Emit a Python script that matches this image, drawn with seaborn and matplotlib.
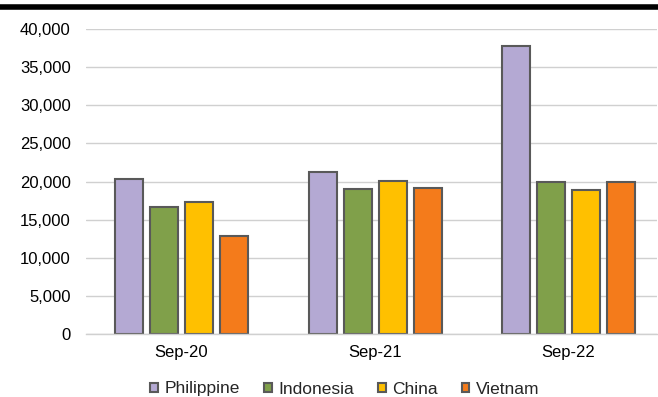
import pandas as pd
import numpy as np
import matplotlib
matplotlib.use("Agg")
import matplotlib.pyplot as plt
import seaborn as sns

# values
periods = ["Sep-20", "Sep-21", "Sep-22"]
countries = ["Philippine", "Indonesia", "China", "Vietnam"]
philippine = [20300, 21300, 37800]
indonesia = [16600, 19000, 20000]
china = [17300, 20100, 18900]
vietnam = [12800, 19200, 20000]
colors = ["#B4A9D3", "#80A04A", "#FFC000", "#F47B1B"]

# long format for seaborn
rows = []
for country, vals in zip(countries, [philippine, indonesia, china, vietnam]):
    for p, v in zip(periods, vals):
        rows.append({"period": p, "country": country, "value": v})
df = pd.DataFrame(rows)

sns.set_style("white")
plt.rcParams["font.family"] = ["Liberation Sans", "DejaVu Sans"]

fig = plt.figure(figsize=(6.58, 3.97), dpi=100)
ax = fig.add_axes([86 / 658, 63 / 397, 571 / 658, 305 / 397])

sns.barplot(data=df, x="period", y="value", hue="country", order=periods,
            hue_order=countries, palette=colors, width=0.723, gap=0.2,
            edgecolor="#595959", linewidth=1.5, saturation=1, ax=ax)

ax.set_ylim(0, 40000)
ax.set_xlim(-0.494, 2.457)
ax.set_yticks(np.arange(0, 40001, 5000))
ax.yaxis.set_major_formatter(matplotlib.ticker.FuncFormatter(lambda v, p: f"{int(v):,}"))
ax.yaxis.grid(True, color="#D0D0D0", linewidth=1)
ax.set_axisbelow(True)
for s in ["top", "right", "left"]:
    ax.spines[s].set_visible(False)
ax.spines["bottom"].set_color("#D0D0D0")
ax.spines["bottom"].set_linewidth(1)
ax.tick_params(axis="both", length=0, labelsize=12, colors="black")
ax.tick_params(axis="x", pad=8)
ax.tick_params(axis="y", pad=11)
ax.set_xlabel("")
ax.set_ylabel("")

ax.legend_.remove()
handles, labels = ax.get_legend_handles_labels()
fig.legend(handles[:4], labels[:4], loc="center", bbox_to_anchor=(345 / 658, 1 - 389 / 397),
           ncol=4, frameon=False, fontsize=12.5, handlelength=0.45, handleheight=0.45,
           handletextpad=0.4, columnspacing=1.35, borderpad=0)

# thick black rule at the top
fig.add_artist(plt.Line2D([0, 1], [1 - 6.5 / 397, 1 - 6.5 / 397], color="black", linewidth=4,
                          transform=fig.transFigure))

fig.savefig("out.png", dpi=100)
